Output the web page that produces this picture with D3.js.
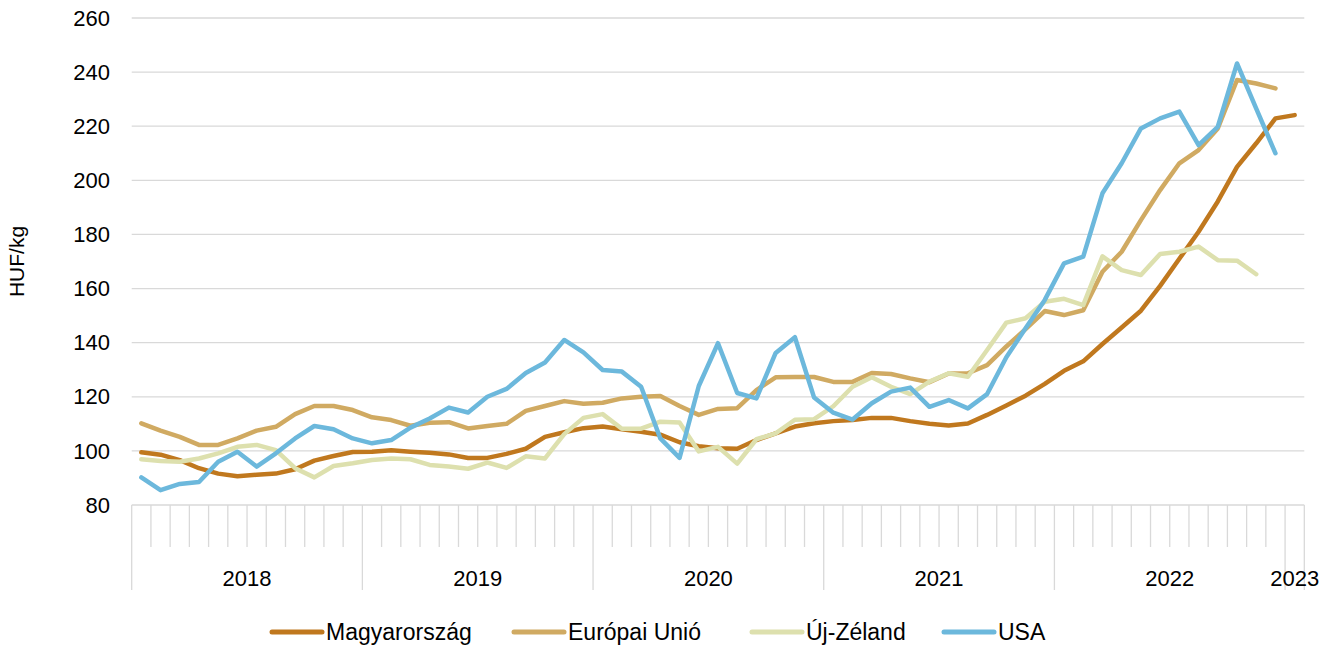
<!DOCTYPE html>
<html>
<head>
<meta charset="utf-8">
<script src="https://cdn.jsdelivr.net/npm/d3@7"></script>
<style>
  body { margin: 0; background: #fff; }
  svg { display: block; font-family: "Liberation Sans", Arial, sans-serif; }
</style>
</head>
<body>
<div id="chart"></div>
<script>
// Years on the category axis and how many months each one has in the chart
const years = ["2018", "2019", "2020", "2021", "2022", "2023"];
const monthsPerYear = [12, 12, 12, 12, 12, 1];
const yTicks = [80, 100, 120, 140, 160, 180, 200, 220, 240, 260];

// Monthly prices, HUF/kg, Jan 2018 .. Jan 2023 (null = no data)
const magyarorszag = [
  99.5, 98.6, 96.6, 93.6, 91.6, 90.6, 91.2, 91.6, 93.2, 96.4, 98.1, 99.6,
  99.7, 100.2, 99.7, 99.3, 98.7, 97.4, 97.4, 98.9, 100.8, 105.2, 106.9, 108.4,
  109.0, 108.0, 107.1, 106.0, 103.2, 101.7, 101.0, 100.8, 104.0, 106.5, 109.0, 110.2,
  111.0, 111.4, 112.2, 112.2, 111.0, 110.0, 109.4, 110.1, 113.3, 116.8, 120.4, 124.8,
  129.6, 133.1, 139.5, 145.6, 151.8, 161.0, 171.0, 181.0, 192.2, 205.0, 213.7, 222.9,
  224.1
];
const europaiUnio = [
  110.2, 107.5, 105.2, 102.2, 102.2, 104.6, 107.5, 108.9, 113.6, 116.6, 116.6, 115.1,
  112.4, 111.4, 109.3, 110.4, 110.6, 108.3, 109.2, 110.0, 114.8, 116.6, 118.4, 117.4,
  117.8, 119.4, 120.0, 120.3, 116.6, 113.3, 115.5, 115.8, 122.5, 127.2, 127.3, 127.3,
  125.5, 125.5, 128.8, 128.4, 126.8, 125.4, 128.6, 128.7, 131.7, 138.6, 145.0, 151.7,
  150.2, 152.0, 166.2, 173.6, 185.3, 196.4, 206.3, 211.2, 219.2, 237.1, 235.8, 234.0,
  null
];
const ujZeland = [
  96.9, 96.3, 96.0, 97.2, 99.1, 101.5, 102.2, 100.3, 93.6, 90.2, 94.4, 95.4,
  96.6, 97.2, 96.9, 94.8, 94.2, 93.4, 95.7, 93.7, 98.0, 97.2, 106.2, 112.2,
  113.6, 108.2, 108.2, 110.8, 110.5, 99.8, 101.5, 95.3, 104.3, 106.5, 111.5, 111.7,
  116.5, 123.7, 127.2, 123.7, 121.0, 125.6, 128.7, 127.4, 137.3, 147.4, 149.0, 155.1,
  156.2, 153.9, 171.9, 166.8, 165.0, 172.8, 173.6, 175.5, 170.5, 170.3, 165.3, null,
  null
];
const usa = [
  90.2, 85.5, 87.8, 88.5, 96.0, 99.7, 94.2, 99.1, 104.6, 109.2, 108.0, 104.6,
  102.8, 104.0, 108.6, 112.0, 116.0, 114.2, 120.0, 122.9, 128.8, 132.7, 141.0, 136.4,
  129.9, 129.3, 123.7, 104.6, 97.4, 124.0, 139.8, 121.4, 119.4, 136.2, 142.0, 119.7,
  114.1, 111.6, 117.6, 121.9, 123.4, 116.3, 118.8, 115.7, 121.0, 134.6, 145.3, 155.8,
  169.3, 171.8, 195.2, 206.3, 219.2, 222.9, 225.4, 213.0, 219.8, 243.2, 226.5, 210.0,
  null
];

const series = [
  { name: "Magyarország", values: magyarorszag, color: "#c0781e" },
  { name: "Európai Unió", values: europaiUnio, color: "#d0aa62" },
  { name: "Új-Zéland", values: ujZeland, color: "#dde0ae" },
  { name: "USA", values: usa, color: "#6cb8dc" }
];

// month keys like "2018-0"
const months = [];
years.forEach((yr, j) => {
  for (let m = 0; m < monthsPerYear[j]; m++) months.push(yr + "-" + m);
});

const W = 1338, H = 645;
const plotLeft = 131.7, plotRight = 1304.3, plotTop = 18, plotBottom = 505;

const svg = d3.select("#chart").append("svg")
    .attr("width", W)
    .attr("height", H);

const x = d3.scaleBand().domain(months).range([plotLeft, plotRight]).padding(0);
const y = d3.scaleLinear().domain([80, 260]).range([plotBottom, plotTop]);

// gridlines
svg.append("g")
  .selectAll("line")
  .data(yTicks)
  .join("line")
    .attr("x1", plotLeft)
    .attr("x2", plotRight)
    .attr("y1", d => y(d))
    .attr("y2", d => y(d))
    .attr("stroke", "#d9d9d9")
    .attr("stroke-width", 1.3);

// y tick labels
svg.append("g")
  .selectAll("text")
  .data(yTicks)
  .join("text")
    .attr("x", 110)
    .attr("y", d => y(d))
    .attr("dy", "0.35em")
    .attr("text-anchor", "end")
    .style("font-size", "22px")
    .style("fill", "#000")
    .text(d => d);

svg.append("text")
    .attr("transform", `translate(24,${(plotTop + plotBottom) / 2}) rotate(-90)`)
    .attr("text-anchor", "middle")
    .style("font-size", "21px")
    .text("HUF/kg");

// month ticks, longer ones at year boundaries
const yearStart = new Set(years.map(yr => yr + "-0"));
const tickG = svg.append("g");
tickG.selectAll("line")
  .data(months)
  .join("line")
    .attr("x1", d => x(d))
    .attr("x2", d => x(d))
    .attr("y1", plotBottom)
    .attr("y2", d => yearStart.has(d) ? 590 : 547)
    .attr("stroke", "#d9d9d9")
    .attr("stroke-width", 1.3);
tickG.append("line")
    .attr("x1", plotRight).attr("x2", plotRight)
    .attr("y1", plotBottom).attr("y2", 590)
    .attr("stroke", "#d9d9d9")
    .attr("stroke-width", 1.3);

// year labels centred under their months
svg.append("g")
  .selectAll("text")
  .data(years)
  .join("text")
    .attr("x", (yr, j) => {
      const first = x(yr + "-0");
      const last = x(yr + "-" + (monthsPerYear[j] - 1)) + x.bandwidth();
      return (first + last) / 2;
    })
    .attr("y", 578)
    .attr("dy", "0.35em")
    .attr("text-anchor", "middle")
    .style("font-size", "22px")
    .text(d => d);

// lines
const line = d3.line()
    .defined(d => d.v != null)
    .x(d => x(d.m) + x.bandwidth() / 2)
    .y(d => y(d.v));

svg.append("g")
  .selectAll("path")
  .data(series)
  .join("path")
    .attr("fill", "none")
    .attr("stroke", d => d.color)
    .attr("stroke-width", 4.5)
    .attr("stroke-linejoin", "round")
    .attr("stroke-linecap", "round")
    .attr("d", d => line(d.values.map((v, i) => ({ m: months[i], v }))));

// legend
const legendX = [270, 512, 750, 942];
const legend = svg.append("g")
  .selectAll("g")
  .data(series)
  .join("g")
    .attr("transform", (d, i) => `translate(${legendX[i]},632)`);
legend.append("line")
    .attr("x1", 2).attr("x2", 52)
    .attr("stroke", d => d.color)
    .attr("stroke-width", 5)
    .attr("stroke-linecap", "round");
legend.append("text")
    .attr("x", 56)
    .attr("dy", "0.35em")
    .style("font-size", "23px")
    .text(d => d.name);
</script>
</body>
</html>
